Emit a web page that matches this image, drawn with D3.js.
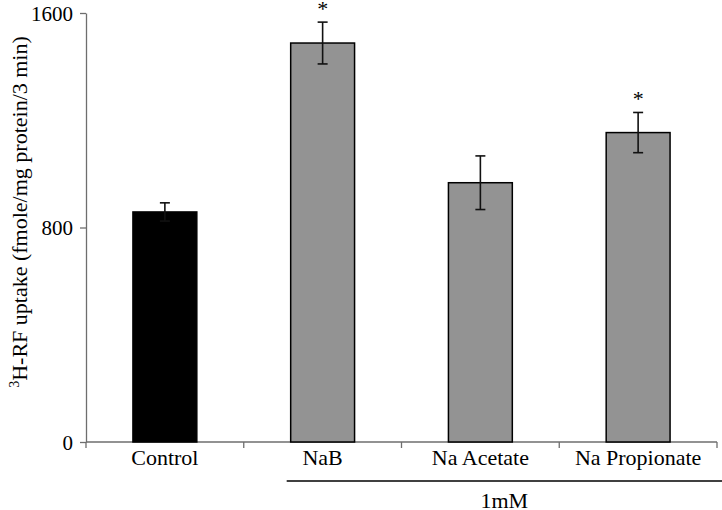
<!DOCTYPE html>
<html>
<head>
<meta charset="utf-8">
<script src="https://cdn.jsdelivr.net/npm/d3@7/dist/d3.min.js"></script>
<style>
  body { margin: 0; background: #fff; }
  svg text { font-family: "Liberation Serif", "Times New Roman", Times, serif; fill: #000; }
</style>
</head>
<body>
<svg id="chart" width="722" height="510"></svg>
<script>
// data
var categories = ["Control", "NaB", "Na Acetate", "Na Propionate"];
var uptake = [858, 1488, 967, 1154];
var errors = [34, 78, 100, 75];
var significant = [false, true, false, true];
var barColors = ["#000000", "#939393", "#939393", "#939393"];
var yTicks = [0, 800, 1600];

var margin = {top: 13, left: 86, right: 5, bottom: 68};
var svg = d3.select("#chart");
var width = 722 - margin.left - margin.right;
var height = 510 - margin.top - margin.bottom;

var g = svg.append("g")
  .attr("transform", "translate(" + margin.left + "," + margin.top + ")");

var x = d3.scaleBand().domain(categories).range([0, width]).padding(0);
var y = d3.scaleLinear().domain([0, 1600]).range([height, 0]);
var barW = x.bandwidth() * 0.405;

function idx(d) { return categories.indexOf(d); }

// y axis
var yAxis = g.append("g")
  .call(d3.axisLeft(y).tickValues(yTicks).tickSize(6).tickSizeOuter(0).tickFormat(d3.format("d")));
yAxis.selectAll("path, line").attr("stroke", "#6e6e6e").attr("stroke-width", 1.3);
yAxis.selectAll("text").attr("font-size", 21).attr("x", -13).attr("dy", "0.34em");

// x axis: ticks at band edges
var xAxis = g.append("g").attr("transform", "translate(0," + height + ")");
xAxis.append("line")
  .attr("x1", 0).attr("x2", width)
  .attr("stroke", "#6e6e6e").attr("stroke-width", 1.3);
xAxis.selectAll(".edge")
  .data(categories.concat([null]))
  .enter().append("line")
  .attr("class", "edge")
  .attr("x1", function(d, i) { return i * x.step(); })
  .attr("x2", function(d, i) { return i * x.step(); })
  .attr("y1", 0).attr("y2", 6)
  .attr("stroke", "#6e6e6e").attr("stroke-width", 1.3);
xAxis.selectAll(".lab")
  .data(categories)
  .enter().append("text")
  .attr("class", "lab")
  .attr("x", function(d) { return x(d) + x.bandwidth() / 2; })
  .attr("y", 23)
  .attr("text-anchor", "middle")
  .attr("font-size", 22)
  .text(function(d) { return d; });

// bars
g.selectAll(".bar")
  .data(categories)
  .enter().append("rect")
  .attr("class", "bar")
  .attr("x", function(d) { return x(d) + (x.bandwidth() - barW) / 2; })
  .attr("y", function(d) { return y(uptake[idx(d)]); })
  .attr("width", barW)
  .attr("height", function(d) { return height - y(uptake[idx(d)]); })
  .attr("fill", function(d) { return barColors[idx(d)]; })
  .attr("stroke", "#000")
  .attr("stroke-width", 1.5);

// error bars
var eb = g.selectAll(".err")
  .data(categories)
  .enter().append("g")
  .attr("class", "err")
  .attr("transform", function(d) { return "translate(" + (x(d) + x.bandwidth() / 2) + ",0)"; });
eb.append("line")
  .attr("y1", function(d) { return y(uptake[idx(d)] - errors[idx(d)]); })
  .attr("y2", function(d) { return y(uptake[idx(d)] + errors[idx(d)]); })
  .attr("stroke", "#111").attr("stroke-width", 1.6);
eb.append("line")
  .attr("x1", -5).attr("x2", 5)
  .attr("y1", function(d) { return y(uptake[idx(d)] + errors[idx(d)]); })
  .attr("y2", function(d) { return y(uptake[idx(d)] + errors[idx(d)]); })
  .attr("stroke", "#111").attr("stroke-width", 1.6);
eb.append("line")
  .attr("x1", -5).attr("x2", 5)
  .attr("y1", function(d) { return y(uptake[idx(d)] - errors[idx(d)]); })
  .attr("y2", function(d) { return y(uptake[idx(d)] - errors[idx(d)]); })
  .attr("stroke", "#111").attr("stroke-width", 1.6);
eb.filter(function(d) { return significant[idx(d)]; })
  .append("text")
  .attr("text-anchor", "middle")
  .attr("y", function(d) { return y(uptake[idx(d)] + errors[idx(d)]) - 6; })
  .attr("font-size", 22)
  .attr("fill", "#333")
  .text("*");

// group bracket under treatments
var first = x("NaB") + (x.bandwidth() - barW) / 2 - 4;
g.append("line")
  .attr("x1", first).attr("x2", 722 - margin.left)
  .attr("y1", height + 39).attr("y2", height + 39)
  .attr("stroke", "#000").attr("stroke-width", 1.5);
g.append("text")
  .attr("x", (first + 722 - margin.left) / 2)
  .attr("y", height + 66)
  .attr("text-anchor", "middle")
  .attr("font-size", 22)
  .text("1mM");

// y label
var yl = svg.append("text")
  .attr("transform", "translate(27,212) rotate(-90)")
  .attr("text-anchor", "middle")
  .attr("font-size", 22);
yl.append("tspan").attr("font-size", 14).attr("dy", -8).text("3");
yl.append("tspan").attr("dy", 8).text("H-RF uptake (fmole/mg protein/3 min)");
</script>
</body>
</html>
